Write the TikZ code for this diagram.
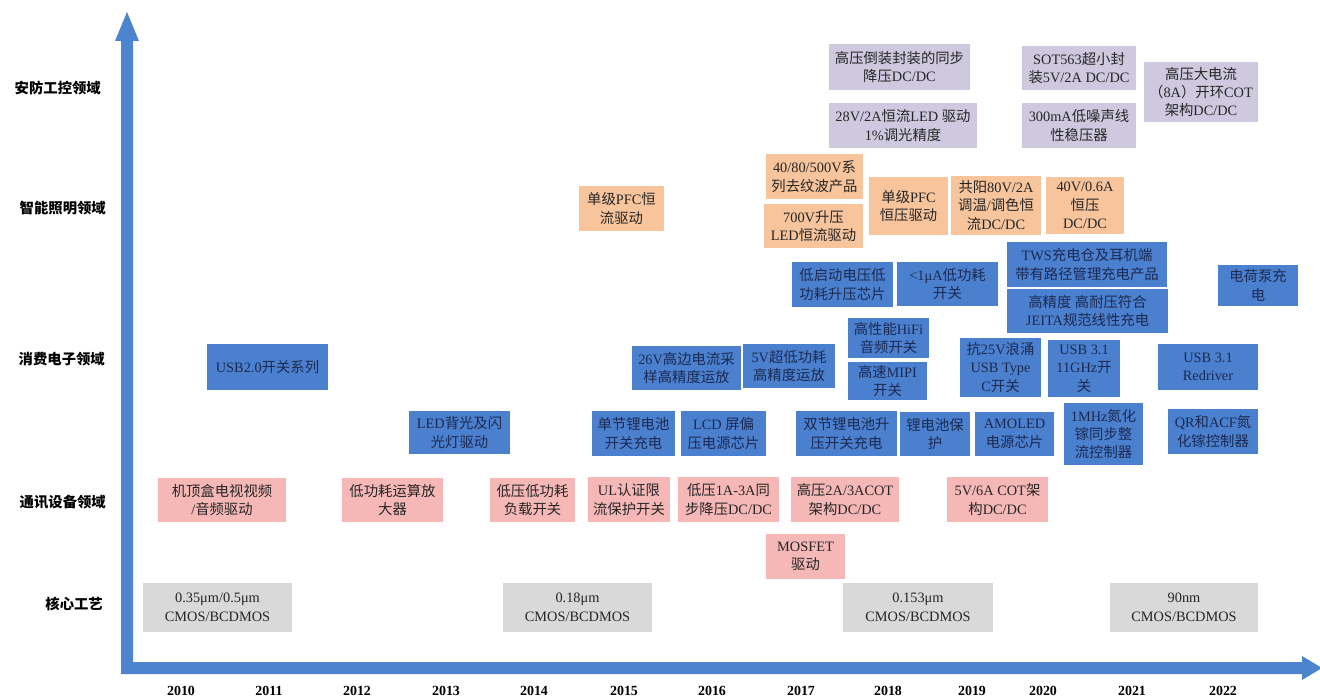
\documentclass[tikz,border=0pt]{standalone}
\usepackage{fontspec}
\setmainfont{Liberation Serif}
\newfontfamily\cjkfam{Noto Sans CJK SC}
% switch automatically between the Latin and the CJK font
\chardef\CJKcls=200
\newcount\chcnt
\def\setclassrange#1#2#3{\chcnt=#1 \loop \XeTeXcharclass\chcnt=#3 \advance\chcnt by 1 \ifnum\chcnt<#2 \repeat}
\setclassrange{"21}{"7F}{0}
\setclassrange{"3000}{"3040}{\CJKcls}
\setclassrange{"4E00}{"A000}{\CJKcls}
\setclassrange{"FF00}{"FFF0}{\CJKcls}
\XeTeXcharclass"3BC=0
\XeTeXinterchartoks 0 \CJKcls = {\cjkfam}
\XeTeXinterchartoks 4095 \CJKcls = {\cjkfam}
\XeTeXinterchartoks \CJKcls 0 = {\rmfamily}
\XeTeXinterchartoks \CJKcls 4095 = {\rmfamily}
\XeTeXinterchartokenstate=1

\definecolor{axisblue}{HTML}{4C84D0}
\definecolor{secfill}{HTML}{CFC9E0}
\definecolor{litfill}{HTML}{F7C49C}
\definecolor{conFill}{HTML}{4A80CE}
\definecolor{conInk}{HTML}{1C2A52}
\definecolor{comfill}{HTML}{F5B8B6}
\definecolor{procfill}{HTML}{D9D9D9}
\definecolor{ink}{HTML}{262626}

\newcommand\boxfont{\fontsize{14.4}{18.5}\selectfont}
\tikzset{
  pbox/.style={rectangle, inner sep=0pt, align=center, font=\boxfont},
  secbox/.style={pbox, fill=secfill, text=ink},
  litbox/.style={pbox, fill=litfill, text=ink},
  conbox/.style={pbox, fill=conFill, text=conInk},
  combox/.style={pbox, fill=comfill, text=ink},
  procbox/.style={pbox, fill=procfill, text=ink},
  fieldlabel/.style={anchor=east, inner sep=0pt, font=\bfseries\fontsize{14.4}{16}\selectfont},
  yearlabel/.style={inner sep=0pt, font=\bfseries\fontsize{14}{16}\selectfont},
}
% \prodbox{name}{style}{left}{top}{right}{bottom}{text}
\newcommand\prodbox[7]{\node[#2, minimum width={(#5-#3)*1bp}, minimum height={(#6-#4)*1bp}] (#1) at ({(#3+#5)/2},{(#4+#6)/2}) {#7};}

\begin{document}
\begin{tikzpicture}[x=1bp, y=-1bp]
\useasboundingbox (0,0) rectangle (1320,699);

% axes
\fill[axisblue] (121,674) -- (121,41) -- (115,41) -- (127,12) -- (139,41) -- (133,41)
  -- (133,662) -- (1302,662) -- (1302,656) -- (1322,668) -- (1302,680) -- (1302,674) -- cycle;

% field labels
\node[fieldlabel] (fsec) at (101,88) {安防工控领域};
\node[fieldlabel] (flit) at (106,208) {智能照明领域};
\node[fieldlabel] (fcon) at (105,359) {消费电子领域};
\node[fieldlabel] (fcom) at (106,502) {通讯设备领域};
\node[fieldlabel] (fproc) at (103,604) {核心工艺};

% years
\node[yearlabel] (y2010) at (181,691) {2010};
\node[yearlabel] (y2011) at (269,691) {2011};
\node[yearlabel] (y2012) at (357,691) {2012};
\node[yearlabel] (y2013) at (446,691) {2013};
\node[yearlabel] (y2014) at (534,691) {2014};
\node[yearlabel] (y2015) at (624,691) {2015};
\node[yearlabel] (y2016) at (712,691) {2016};
\node[yearlabel] (y2017) at (801,691) {2017};
\node[yearlabel] (y2018) at (888,691) {2018};
\node[yearlabel] (y2019) at (972,691) {2019};
\node[yearlabel] (y2020) at (1043,691) {2020};
\node[yearlabel] (y2021) at (1132,691) {2021};
\node[yearlabel] (y2022) at (1223,691) {2022};

% security / industrial control
\prodbox{s1}{secbox}{829}{44}{970}{90}{高压倒装封装的同步\\降压DC/DC}
\prodbox{s2}{secbox}{829}{103}{977}{148}{28V/2A恒流LED 驱动\\1\%调光精度}
\prodbox{s3}{secbox}{1022}{46}{1136}{90}{SOT563超小封\\装5V/2A DC/DC}
\prodbox{s4}{secbox}{1022}{103}{1136}{148}{300mA低噪声线\\性稳压器}
\prodbox{s5}{secbox}{1144}{62}{1258}{122}{高压大电流\\（8A）开环COT\\架构DC/DC}

% smart lighting
\prodbox{l1}{litbox}{579}{186}{664}{231}{单级PFC恒\\流驱动}
\prodbox{l2}{litbox}{766}{154}{863}{199}{40/80/500V系\\列去纹波产品}
\prodbox{l3}{litbox}{764}{204}{863}{248}{700V升压\\LED恒流驱动}
\prodbox{l4}{litbox}{869}{177}{948}{235}{单级PFC\\恒压驱动}
\prodbox{l5}{litbox}{951}{176}{1041}{235}{共阳80V/2A\\调温/调色恒\\流DC/DC}
\prodbox{l6}{litbox}{1046}{177}{1124}{234}{40V/0.6A\\恒压\\DC/DC}

% consumer electronics
\prodbox{c1}{conbox}{207}{344}{328}{390}{USB2.0开关系列}
\prodbox{c2}{conbox}{409}{411}{510}{454}{LED背光及闪\\光灯驱动}
\prodbox{c3}{conbox}{632}{346}{741}{390}{26V高边电流采\\样高精度运放}
\prodbox{c4}{conbox}{743}{344}{835}{388}{5V超低功耗\\高精度运放}
\prodbox{c5}{conbox}{592}{411}{675}{456}{单节锂电池\\开关充电}
\prodbox{c6}{conbox}{681}{411}{766}{456}{LCD 屏偏\\压电源芯片}
\prodbox{c7}{conbox}{792}{262}{893}{307}{低启动电压低\\功耗升压芯片}
\prodbox{c8}{conbox}{848}{318}{929}{358}{高性能HiFi\\音频开关}
\prodbox{c9}{conbox}{848}{362}{927}{400}{高速MIPI\\开关}
\prodbox{c10}{conbox}{796}{411}{897}{456}{双节锂电池升\\压开关充电}
\prodbox{c11}{conbox}{897}{262}{998}{306}{<1μA低功耗\\开关}
\prodbox{c12}{conbox}{1007}{242}{1167}{287}{TWS充电仓及耳机端\\带有路径管理充电产品}
\prodbox{c13}{conbox}{1007}{289}{1168}{333}{高精度 高耐压符合\\JEITA规范线性充电}
\prodbox{c14}{conbox}{1218}{265}{1298}{306}{电荷泵充\\电}
\prodbox{c15}{conbox}{960}{338}{1041}{397}{抗25V浪涌\\USB Type\\C开关}
\prodbox{c16}{conbox}{1048}{340}{1120}{397}{USB 3.1\\11GHz开\\关}
\prodbox{c17}{conbox}{1158}{344}{1258}{390}{USB 3.1\\Redriver}
\prodbox{c18}{conbox}{900}{412}{970}{456}{锂电池保\\护}
\prodbox{c19}{conbox}{975}{412}{1054}{456}{AMOLED\\电源芯片}
\prodbox{c20}{conbox}{1064}{403}{1143}{465}{1MHz氮化\\镓同步整\\流控制器}
\prodbox{c21}{conbox}{1168}{409}{1258}{454}{QR和ACF氮\\化镓控制器}

% communication equipment
\prodbox{m1}{combox}{158}{478}{286}{522}{机顶盒电视视频\\/音频驱动}
\prodbox{m2}{combox}{342}{478}{443}{522}{低功耗运算放\\大器}
\prodbox{m3}{combox}{490}{478}{575}{522}{低压低功耗\\负载开关}
\prodbox{m4}{combox}{588}{477}{670}{522}{UL认证限\\流保护开关}
\prodbox{m5}{combox}{678}{477}{779}{522}{低压1A-3A同\\步降压DC/DC}
\prodbox{m6}{combox}{791}{477}{899}{522}{高压2A/3ACOT\\架构DC/DC}
\prodbox{m7}{combox}{766}{534}{845}{579}{MOSFET\\驱动}
\prodbox{m8}{combox}{947}{477}{1048}{522}{5V/6A COT架\\构DC/DC}

% core process
\prodbox{p1}{procbox}{143}{583}{292}{632}{0.35μm/0.5μm\\CMOS/BCDMOS}
\prodbox{p2}{procbox}{503}{583}{652}{632}{0.18μm\\CMOS/BCDMOS}
\prodbox{p3}{procbox}{843}{583}{993}{632}{0.153μm\\CMOS/BCDMOS}
\prodbox{p4}{procbox}{1110}{583}{1258}{632}{90nm\\CMOS/BCDMOS}
\end{tikzpicture}
\end{document}
